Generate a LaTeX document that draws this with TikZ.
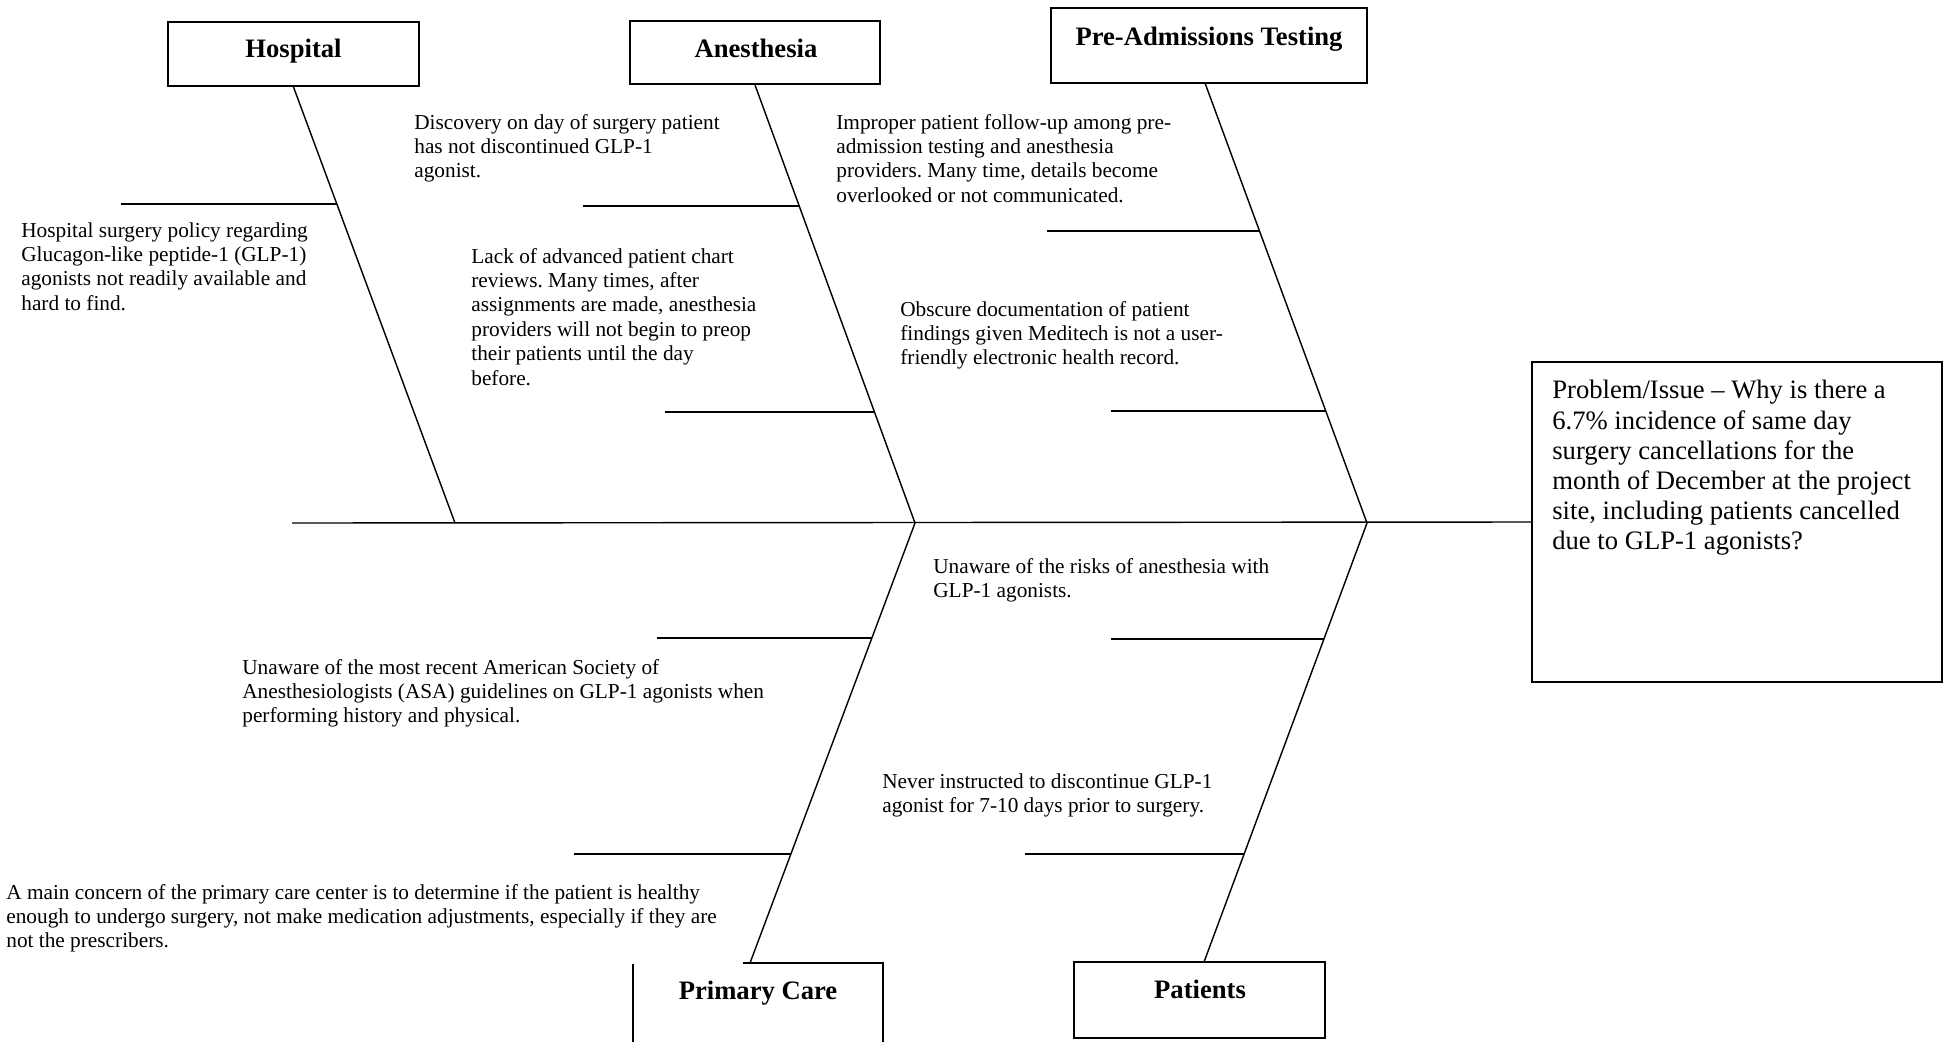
\documentclass[tikz,border=0pt]{standalone}
\usepackage{fontspec}
\setmainfont{Liberation Serif}
\usetikzlibrary{calc}
\begin{document}
\begin{tikzpicture}[x=0.5635pt,y=-0.5635pt,
  bone/.style={line width=0.8pt},
  catbox/.style={draw, line width=1.1pt, inner sep=0pt},
  cattext/.style={font=\fontsize{15}{18}\selectfont\bfseries, anchor=base, inner sep=0pt},
  cause/.style={font=\fontsize{12}{13.75}\selectfont\frenchspacing, anchor=base west, inner sep=0pt, align=left},
]
\useasboundingbox[fill=white] (0,0) rectangle (1948,1041);

% category boxes
\node[catbox, minimum width=141.4pt, minimum height=36.1pt] (hosp) at (293.5,54) {};
\node[catbox, minimum width=140.9pt, minimum height=35.5pt] (anes) at (755,52.5) {};
\node[catbox, minimum width=178.1pt, minimum height=42.3pt] (pat) at (1209,45.5) {};
\node[catbox, minimum width=231.0pt, minimum height=180.3pt] (prob) at (1737,522) {};
\node[catbox, minimum width=141.4pt, minimum height=42.8pt] (pts) at (1199.5,1000) {};

% primary care box (partly drawn)
\coordinate (pcTL) at (633,964);
\coordinate (pcBL) at (633,1045);
\coordinate (pcT1) at (743,963);
\coordinate (pcTR) at (883,963);
\coordinate (pcBR) at (883,1045);
\draw[line width=1.1pt] (pcTL) -- (pcBL);
\draw[line width=1.1pt] (pcT1) -- (pcTR) -- (pcBR);

% category labels
\node[cattext] (lHosp) at (293.5,57) {Hospital};
\node[cattext] (lAnes) at (756,57) {Anesthesia};
\node[cattext] (lPat) at (1209,45) {Pre-Admissions Testing};
\node[cattext] (lPc) at (758,999) {Primary Care};
\node[cattext] (lPts) at (1200,998) {Patients};

% spine
\coordinate (tail) at (292,523);
\coordinate (jH) at (455,523);
\coordinate (jA) at (915,523);
\coordinate (jP) at (1367,523);
\coordinate (patTop) at (1205,83);
\coordinate (pcTop) at (750,963);
\coordinate (ptsTop) at (1204,962);
\draw[bone] (tail) -- (prob.west);

% bones
\draw[bone] (hosp.south) -- (jH);
\draw[bone] (anes.south) -- (jA);
\draw[bone] (patTop) -- (jP);
\draw[bone] (jA) -- (pcTop);
\draw[bone] (jP) -- (ptsTop);

% sub-branches
\coordinate (bH1a) at (121,204);   \coordinate (bH1b) at (337.1,204);
\coordinate (bA1a) at (583,206);   \coordinate (bA1b) at (799.5,206);
\coordinate (bA2a) at (665,412);   \coordinate (bA2b) at (874.5,412);
\coordinate (bP1a) at (1047,231);  \coordinate (bP1b) at (1259.5,231);
\coordinate (bP2a) at (1111,411);  \coordinate (bP2b) at (1325.7,411);
\coordinate (bC1a) at (657,638);   \coordinate (bC1b) at (871.9,638);
\coordinate (bC2a) at (574,854);   \coordinate (bC2b) at (790.9,854);
\coordinate (bT1a) at (1111,639);  \coordinate (bT1b) at (1324,639);
\coordinate (bT2a) at (1025,854);  \coordinate (bT2b) at (1244.1,854);
\foreach \b in {H1,A1,A2,P1,P2,C1,C2,T1,T2}
  \draw[bone] (b\b a) -- (b\b b);

% cause texts (anchored at the baseline of their last line)
\node[cause] (tHosp) at (21,310.2) {Hospital surgery policy regarding\\Glucagon-like peptide-1 (GLP-1)\\agonists not readily available and\\hard to find.};
\node[cause] (tDisc) at (414,177.8) {Discovery on day of surgery patient\\has not discontinued GLP-1\\agonist.};
\node[cause] (tLack) at (471,385) {Lack of advanced patient chart\\reviews. Many times, after\\assignments are made, anesthesia\\providers will not begin to preop\\their patients until the day\\before.};
\node[cause] (tImpr) at (836,202.2) {Improper patient follow-up among pre-\\admission testing and anesthesia\\providers. Many time, details become\\overlooked or not communicated.};
\node[cause] (tObsc) at (900,364.8) {Obscure documentation of patient\\findings given Meditech is not a user-\\friendly electronic health record.};
\node[cause] (tRisk) at (933,597.4) {Unaware of the risks of anesthesia with\\GLP-1 agonists.};
\node[cause] (tNever) at (882,812.4) {Never instructed to discontinue GLP-1\\agonist for 7-10 days prior to surgery.};
\node[cause] (tASA) at (242,722.8) {Unaware of the most recent American Society of\\Anesthesiologists (ASA) guidelines on GLP-1 agonists when\\performing history and physical.};
\node[cause] (tMain) at (6,947.8) {A main concern of the primary care center is to determine if the patient is healthy\\enough to undergo surgery, not make medication adjustments, especially if they are\\not the prescribers.};
\node[cause, font=\fontsize{15}{17}\selectfont\frenchspacing] (tProb) at (1552,549.8) {Problem/Issue -- Why is there a\\6.7\% incidence of same day\\surgery cancellations for the\\month of December at the project\\site, including patients cancelled\\due to GLP-1 agonists?};
\end{tikzpicture}
\end{document}
